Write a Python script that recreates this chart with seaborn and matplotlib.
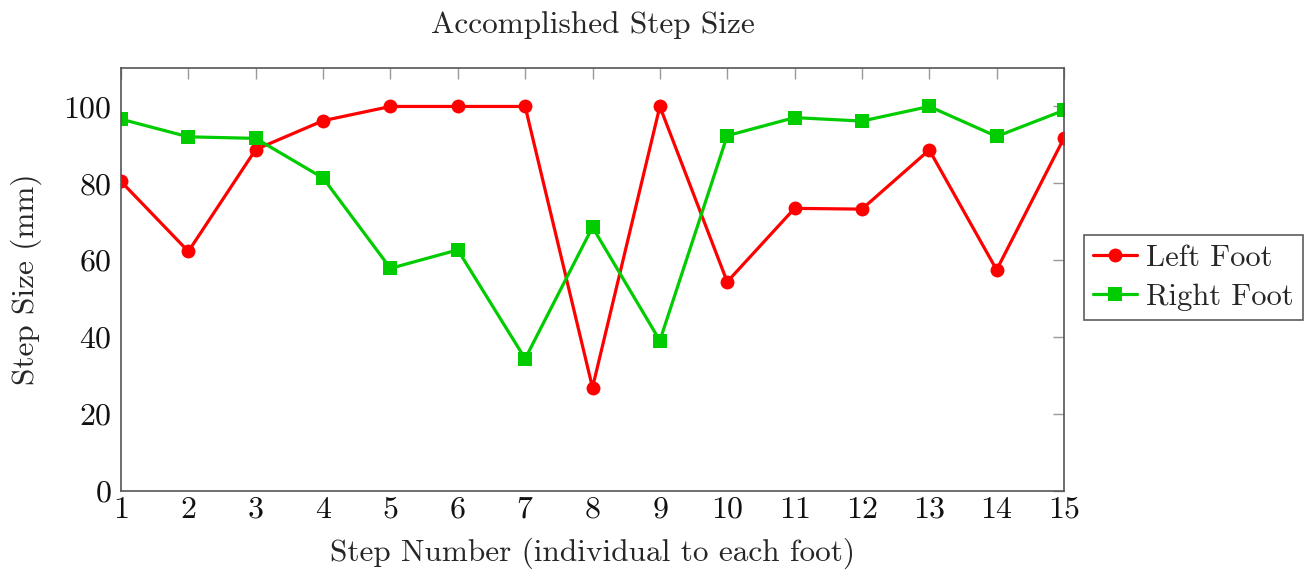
import numpy as np
import pandas as pd
import matplotlib
matplotlib.use("Agg")
import matplotlib.pyplot as plt
import seaborn as sns

steps = list(range(1, 16))
left_foot = [80.5, 62.3, 88.8, 96.3, 100, 100, 100, 26.9, 100, 54.4, 73.5, 73.3, 88.7, 57.5, 91.8]
right_foot = [96.7, 92.1, 91.7, 81.4, 57.9, 62.7, 34.4, 68.6, 39.1, 92.4, 97.1, 96.2, 100, 92.2, 99.0]
series_names = ["Left Foot", "Right Foot"]
y_ticks = [0, 20, 40, 60, 80, 100]

df = pd.concat([
    pd.DataFrame({"step": steps, "size": left_foot, "foot": series_names[0]}),
    pd.DataFrame({"step": steps, "size": right_foot, "foot": series_names[1]}),
])

sns.set_theme(style="white")
plt.rcParams["font.family"] = ["cmr10", "DejaVu Serif"]
plt.rcParams["mathtext.fontset"] = "cm"
plt.rcParams["axes.formatter.use_mathtext"] = True

fig = plt.figure(figsize=(13.04, 5.72), dpi=100)
ax = fig.add_axes([121 / 1304, 1 - 491 / 572, (1064 - 121) / 1304, (491 - 68) / 572])

palette = {"Left Foot": "#ff0000", "Right Foot": "#00cc00"}
markers = {"Left Foot": "o", "Right Foot": "s"}
sns.lineplot(data=df, x="step", y="size", hue="foot", style="foot",
             palette=palette, markers=markers, dashes=False,
             linewidth=2.3, markersize=10, markeredgewidth=0, ax=ax)

ax.set_xlim(1, 15)
ax.set_ylim(0, 110)
ax.set_xticks(steps)
ax.set_yticks(y_ticks)
ax.tick_params(axis="both", which="both", direction="in", length=8, width=1,
               color="#999999", labelsize=23, top=True, right=True,
               labelcolor="#111111")
ax.tick_params(axis="x", pad=4)
ax.tick_params(axis="y", pad=7)
for side in ax.spines.values():
    side.set_color("#555555")
    side.set_linewidth(1.2)

ax.set_title("Accomplished Step Size", fontsize=22.5, pad=25)
ax.set_xlabel("Step Number (individual to each foot)", fontsize=22.5, labelpad=10)
ax.set_ylabel("Step Size (mm)", fontsize=22.5, labelpad=15)

handles, labels = ax.get_legend_handles_labels()
leg = ax.legend(handles, labels, loc="center left", bbox_to_anchor=(1.021, 0.504),
                fontsize=22, frameon=True, fancybox=False, edgecolor="#333333",
                handlelength=1.45, handletextpad=0.3, borderpad=0.3,
                labelspacing=0.38, borderaxespad=0)
leg.get_frame().set_linewidth(1.2)

fig.savefig("out.png", dpi=100)
